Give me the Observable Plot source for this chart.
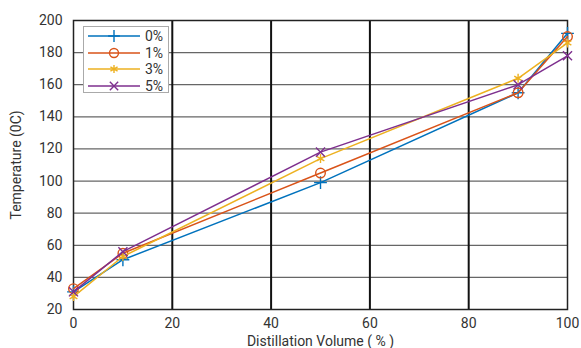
<!DOCTYPE html>
<html><head><meta charset="utf-8">
<script src="https://cdn.jsdelivr.net/npm/d3@7"></script>
<script src="https://cdn.jsdelivr.net/npm/@observablehq/plot@0.6"></script>
<style>
body{margin:0;background:#fff;}
#wrap{position:relative;width:581px;height:348px;font-family:Roboto,sans-serif;}
#legend{position:absolute;left:83px;top:26px;width:86px;height:67px;background:#fff;border:1px solid #aaa;box-sizing:border-box;font-size:14px;color:#333;}
.row{position:absolute;left:0;height:16px;display:flex;align-items:center;}
</style>
</head><body>
<div id="wrap"><div id="chart"></div><div id="legend"></div></div>
<script>
const volumes = [0, 10, 50, 90, 100];
const seriesNames = ["0%", "1%", "3%", "5%"];
const temp0 = [31, 51, 99, 155, 192];
const temp1 = [33, 55, 105, 155, 190];
const temp3 = [28, 53, 114, 164, 186];
const temp5 = [31, 56, 118, 160, 178];
const colors = ["#0072BD", "#D95319", "#EDB120", "#7E2F8E"];
const symbols = ["plus", "circle", "asterisk", "times"];
const xTicks = [0, 20, 40, 60, 80, 100];
const yTicks = [20, 40, 60, 80, 100, 120, 140, 160, 180, 200];

const all = [temp0, temp1, temp3, temp5];
const data = [];
all.forEach((arr, i) => arr.forEach((v, j) => data.push({x: volumes[j], y: v, s: seriesNames[i]})));

const marks = [
  Plot.ruleY(yTicks.filter(d => d > 20 && d < 200), {stroke: "#666", strokeWidth: 1.3}),
  Plot.ruleX(xTicks.filter(d => d > 0 && d < 100), {stroke: "#111", strokeWidth: 2}),
  Plot.frame({stroke: "#222", strokeWidth: 1.5}),
  Plot.axisX({ticks: xTicks, tickSize: 0, tickPadding: 9, fontSize: 14, fill: "#333", label: "Distillation Volume ( % )", labelAnchor: "center", labelArrow: "none", labelOffset: 36}),
  Plot.axisY({ticks: yTicks, tickSize: 0, tickPadding: 11, fontSize: 14, fill: "#333", label: "Temperature (0C)", labelAnchor: "center", labelArrow: "none", labelOffset: 62})
];
seriesNames.forEach((name, i) => {
  const d = data.filter(r => r.s === name);
  marks.push(Plot.line(d, {x: "x", y: "y", stroke: colors[i], strokeWidth: 1.5}));
  marks.push(Plot.dot(d, {x: "x", y: "y", stroke: colors[i], symbol: () => symbols[i], r: i === 1 ? 4.8 : 4.2, strokeWidth: 1.4, fill: "none"}));
});

const chart = Plot.plot({
  width: 581, height: 348,
  marginLeft: 73, marginRight: 14, marginTop: 20, marginBottom: 39,
  style: {fontFamily: "Roboto, sans-serif", fontSize: "14px", color: "#333", background: "#fff"},
  x: {domain: [0, 100]},
  y: {domain: [20, 200]},
  marks
});
document.getElementById("chart").appendChild(chart);

// legend
const leg = document.getElementById("legend");
seriesNames.forEach((name, i) => {
  const row = document.createElement("div");
  row.className = "row";
  row.style.top = (1 + i * 16.5) + "px";
  const svg = d3.create("svg").attr("width", 58).attr("height", 16);
  svg.append("line").attr("x1", 4).attr("x2", 56).attr("y1", 8).attr("y2", 8).attr("stroke", colors[i]).attr("stroke-width", 1.5);
  const sym = d3.symbol(d3["symbol" + symbols[i][0].toUpperCase() + symbols[i].slice(1)], Math.PI * (i === 1 ? 20 : 15))();
  svg.append("path").attr("d", sym).attr("transform", "translate(30,8)").attr("stroke", colors[i]).attr("fill", "none").attr("stroke-width", 1.4);
  row.appendChild(svg.node());
  const t = document.createElement("span");
  t.textContent = name;
  t.style.marginLeft = "3px";
  row.appendChild(t);
  leg.appendChild(row);
});
</script>
</body></html>
